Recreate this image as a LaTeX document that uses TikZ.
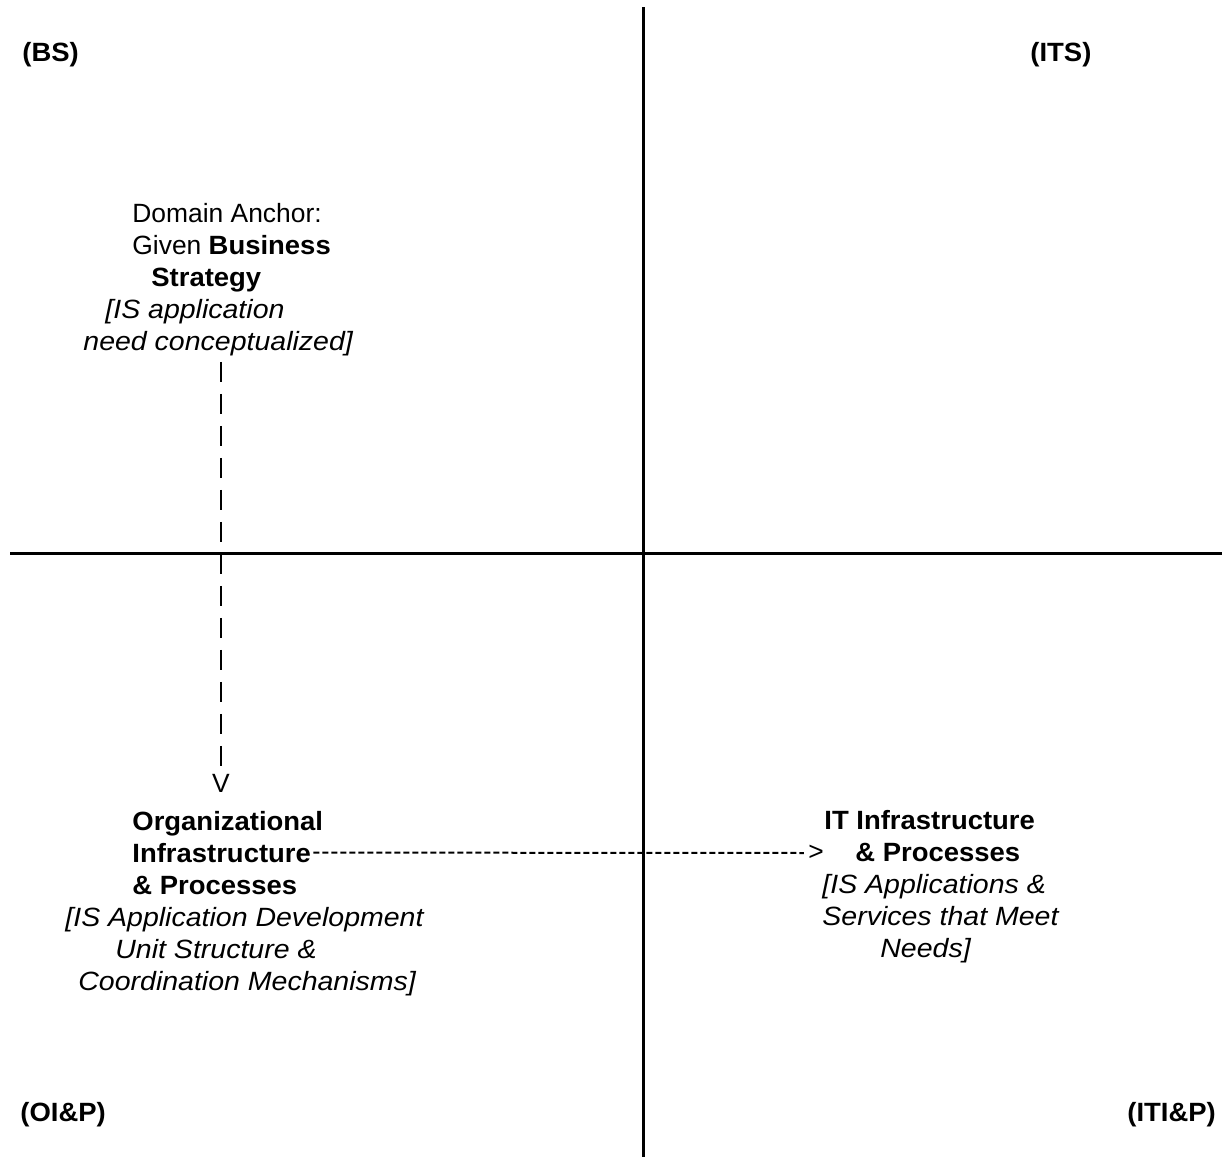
\documentclass[tikz,border=0pt]{standalone}
\usepackage{fontspec}
\setmainfont{Liberation Sans}[ItalicFeatures={FakeStretch=1.08},BoldFeatures={FakeStretch=1.04}]
\begin{document}
\begin{tikzpicture}[x=0.5pt,y=-0.5pt,
  txt/.style={anchor=base west,inner sep=0pt,font=\fontsize{13.2}{16}\selectfont},
  tip/.style={anchor=center,inner sep=0pt,font=\fontsize{13.2}{16}\selectfont},
  axisline/.style={line width=1.5pt},
  dashline/.style={line width=1pt,dash pattern=on 10pt off 6pt},
  dotline/.style={line width=1pt,dash pattern=on 3pt off 1.5pt}]
\useasboundingbox (0,0) rectangle (1222,1157);
% axes
\draw[axisline] (643,7) -- (643,1157);
\draw[axisline] (10,553) -- (1222,553);
% corner labels
\node[txt] (bs) at (22,61) {\bfseries (BS)};
\node[txt] (its) at (1030,61) {\bfseries (ITS)};
\node[txt] (oip) at (20,1121) {\bfseries (OI\&P)};
\node[txt] (itip) at (1127,1121) {\bfseries (ITI\&P)};
% business strategy block
\node[txt] (a1) at (132,222) {Domain Anchor:};
\node[txt] (a2) at (132,254) {Given \textbf{Business}};
\node[txt] (a3) at (151,286) {\bfseries Strategy};
\node[txt] (a4) at (105,318) {\itshape [IS application};
\node[txt] (a5) at (83,350) {\itshape need conceptualized]};
% organizational block
\node[txt] (b1) at (132,830) {\bfseries Organizational};
\node[txt] (b2) at (132,862) {\bfseries Infrastructure};
\node[txt] (b3) at (132,894) {\bfseries \& Processes};
\node[txt] (b4) at (65,926) {\itshape [IS Application Development};
\node[txt] (b5) at (115,958) {\itshape Unit Structure \&};
\node[txt] (b6) at (78,990) {\itshape Coordination Mechanisms]};
% IT infrastructure block
\node[txt] (c1) at (824,829) {\bfseries IT Infrastructure};
\node[txt] (c2) at (855,861) {\bfseries \& Processes};
\node[txt] (c3) at (822,893) {\itshape [IS Applications \&};
\node[txt] (c4) at (822,925) {\itshape Services that Meet};
\node[txt] (c5) at (880,957) {\itshape Needs]};
% arrow heads as characters
\node[tip] (v) at (221,783) {V};
\node[tip] (gt) at (816,853) {>};
% connectors
\draw[dashline,shorten <=3pt,shorten >=2pt] (a5.south -| v.north) -- (v.north);
\draw[dotline,shorten <=1pt,shorten >=2pt] (b2.east) -- (gt.west);
\end{tikzpicture}
\end{document}
